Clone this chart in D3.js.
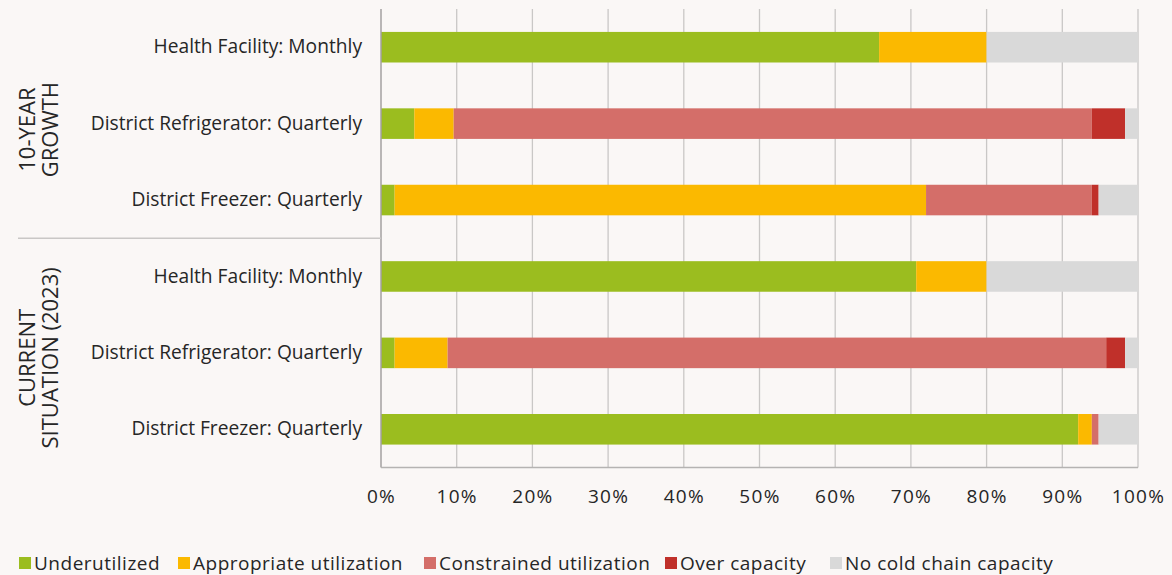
<!DOCTYPE html>
<html><head><meta charset="utf-8">
<script src="https://cdn.jsdelivr.net/npm/d3@7"></script>
<style>
html,body{margin:0;padding:0;background:#faf7f6;}
svg{display:block;font-family:"Open Sans",Lato,sans-serif;}
</style></head>
<body><svg id="c" width="1172" height="575"></svg>
<script>
const rowLabels = ["Health Facility: Monthly","District Refrigerator: Quarterly","District Freezer: Quarterly","Health Facility: Monthly","District Refrigerator: Quarterly","District Freezer: Quarterly"];
const groupLabels = [["10-YEAR","GROWTH"],["CURRENT","SITUATION (2023)"]];
const seriesNames = ["Underutilized","Appropriate utilization","Constrained utilization","Over capacity","No cold chain capacity"];
const seriesColors = ["#9bbd1f","#fbb900","#d46e69","#c0302a","#d9d9d9"];
const underutilized = [65.8, 4.4, 1.8, 70.7, 1.8, 92.1];
const appropriate   = [14.2, 5.2, 70.2, 9.3, 7.0, 1.8];
const constrained   = [0, 84.3, 21.9, 0, 87.0, 0.9];
const overCapacity  = [0, 4.4, 0.9, 0, 2.5, 0];
const noColdChain   = [20.0, 1.7, 5.2, 20.0, 1.7, 5.2];
const xTicks = [0,10,20,30,40,50,60,70,80,90,100];

(function(){
const svg = d3.select("#c");
const FONT = "'Open Sans',Lato,sans-serif";
const TXT = "#262626";
const L = 381, R = 1138, T = 9, B = 467.5;
const x = d3.scaleLinear().domain([0,100]).range([L,R]);
const ids = rowLabels.map((d,i)=>i);
const y = d3.scaleBand().domain(ids).range([T,B]).paddingInner(0.6).paddingOuter(0.3);

const table = ids.map(i=>({i, s0:underutilized[i], s1:appropriate[i], s2:constrained[i], s3:overCapacity[i], s4:noColdChain[i]}));
const stack = d3.stack().keys(["s0","s1","s2","s3","s4"])(table);

// gridlines
svg.append("g").selectAll("line").data(xTicks.slice(1)).join("line")
  .attr("x1",d=>x(d)).attr("x2",d=>x(d)).attr("y1",T).attr("y2",B)
  .attr("stroke","#c9c7c6").attr("stroke-width",1.3);

// bars
svg.append("g").selectAll("g").data(stack).join("g")
  .attr("fill",(d,k)=>seriesColors[k])
  .selectAll("rect").data(d=>d).join("rect")
  .attr("x",d=>x(d[0])).attr("width",d=>Math.max(0,x(d[1])-x(d[0])))
  .attr("y",d=>y(d.data.i)).attr("height",y.bandwidth());

// axis lines
svg.append("line").attr("x1",L).attr("x2",L).attr("y1",T).attr("y2",B).attr("stroke","#a3a1a0").attr("stroke-width",1.5);
svg.append("line").attr("x1",L).attr("x2",R).attr("y1",B).attr("y2",B).attr("stroke","#b5b3b2").attr("stroke-width",1.3);
// group separator
const sepY = (y(2)+y.bandwidth()+y(3))/2;
svg.append("line").attr("x1",18).attr("x2",L).attr("y1",sepY).attr("y2",sepY).attr("stroke","#c9c7c6").attr("stroke-width",1.3);

// x axis labels
const xAxis = d3.axisBottom(x).tickValues(xTicks).tickFormat(d=>d+"%").tickSize(0).tickPadding(0);
const gx = svg.append("g").attr("transform",`translate(0,${B+22})`).call(xAxis);
gx.select(".domain").remove();
gx.selectAll("text").attr("font-size",19).attr("fill",TXT).attr("font-family",FONT).attr("letter-spacing","1.3px");

// row labels
const yAxis = d3.axisLeft(y).tickFormat(i=>rowLabels[i]).tickSize(0).tickPadding(19);
const gy = svg.append("g").attr("transform",`translate(${L},0)`).call(yAxis);
gy.select(".domain").remove();
gy.selectAll("text").attr("font-size",19.2).attr("fill",TXT).attr("font-family",FONT);

// group labels
const groupCenters = [(T+sepY)/2+6, (sepY+B)/2+5];
groupLabels.forEach((lines,g)=>{
  const t = svg.append("text").attr("transform",`translate(35,${groupCenters[g]}) rotate(-90)`)
    .attr("text-anchor","middle").attr("font-size",22).attr("fill",TXT);
  lines.forEach((l,k)=>t.append("tspan").attr("x",0).attr("dy",k===0?0:23).text(l));
});

// legend
const legX = [19,178,424,665,830];
const lg = svg.append("g").selectAll("g").data(seriesNames).join("g")
  .attr("transform",(d,k)=>`translate(${legX[k]},557)`);
lg.append("rect").attr("width",12).attr("height",12).attr("fill",(d,k)=>seriesColors[k]);
lg.append("text").attr("x",15).attr("y",12.5).attr("font-size",19).attr("letter-spacing","0.5px").attr("fill",TXT).text(d=>d);
})();
</script></body></html>
